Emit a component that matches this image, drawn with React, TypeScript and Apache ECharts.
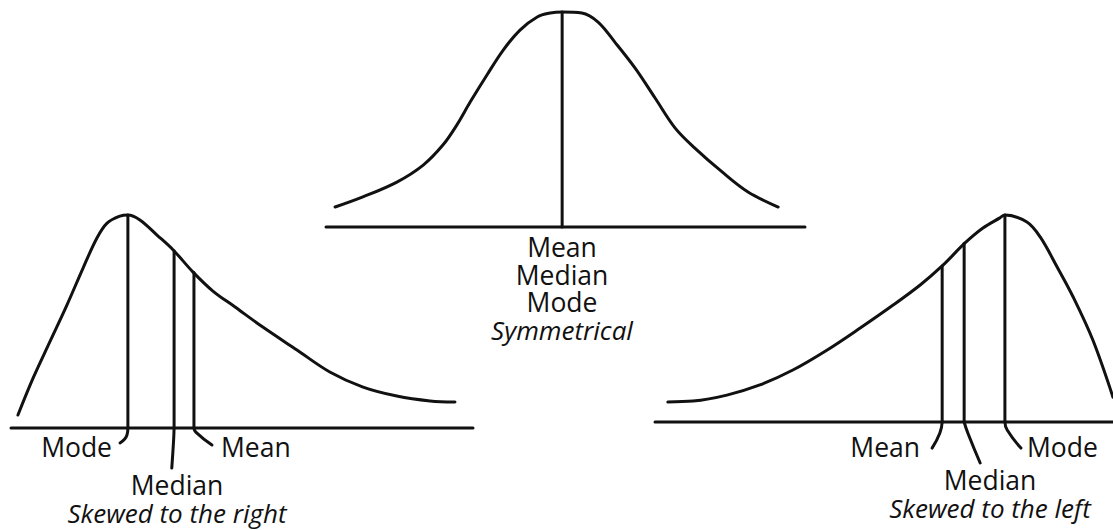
import React, { useEffect, useRef } from "react";
import * as echarts from "echarts";

// ---------- data (curve heights in % of the peak, x in % of each axis) ----------
const rightSkewCurve: [number, number][] = [
  [1.5, 6.1], [4.8, 23.5], [8.4, 40.4], [12.1, 57.7], [15.6, 75.1], [18.6, 89.2],
  [20.8, 96.2], [23.6, 99.5], [25.3, 100], [27.9, 97.7], [31.6, 90.6], [35.1, 83.6],
  [39.4, 73.2], [43.7, 64.3], [48.5, 56.8], [54.5, 47.4], [61.9, 36.6], [69.0, 26.3],
  [76.2, 19.2], [83.5, 15.0], [90.7, 12.7], [96.1, 12.2],
];
const rightSkewNames = ["Mode", "Median", "Mean"];
const rightSkewX = [25.3, 35.3, 39.6];
const rightSkewTop = [100, 83.2, 73.0];
const rightSkewTicks: [number, number][][] = [
  [[25.3, 0], [25.1, -3.3], [23.6, -7.0]],
  [[35.3, 0], [35.2, -5.6], [34.8, -18.8]],
  [[39.6, 0], [40.0, -1.9], [43.5, -8.0]],
];

const symmetricCurve: [number, number][] = [
  [1.9, 9.3], [7.7, 14.0], [14.8, 20.9], [20.3, 28.8], [24.4, 38.1], [27.3, 47.4],
  [30.1, 58.1], [33.6, 70.7], [37.0, 82.3], [40.5, 91.6], [44.1, 97.7], [46.8, 99.5],
  [49.3, 100], [53.4, 99.5], [56.8, 95.3], [60.3, 86.0], [64.5, 74.0], [68.7, 60.0],
  [72.9, 46.0], [77.0, 36.7], [82.7, 25.6], [88.1, 16.3], [94.4, 9.3],
];
const symmetricX = 49.3;
const symmetricTop = 100;
const symmetricNames = ["Mean", "Median", "Mode"];

const leftSkewCurve: [number, number][] = [
  [2.8, 9.7], [8.3, 10.1], [15.7, 13.0], [22.9, 17.9], [30.1, 25.1], [37.6, 34.8],
  [44.8, 45.4], [52.0, 56.5], [57.9, 66.2], [62.7, 75.4], [67.7, 86.5], [71.6, 93.7],
  [75.3, 98.6], [76.4, 100], [81.2, 96.6], [84.1, 89.4], [87.8, 74.9], [91.3, 60.4],
  [95.6, 39.6], [100, 12.0],
];
const leftSkewNames = ["Mean", "Median", "Mode"];
const leftSkewX = [62.7, 67.5, 76.4];
const leftSkewTop = [75.4, 86.3, 100];
const leftSkewTicks: [number, number][][] = [
  [[62.7, 0], [62.2, -5.3], [60.5, -12.6]],
  [[67.5, 0], [68.3, -5.3], [71.0, -19.8]],
  [[76.4, 0], [76.9, -3.9], [79.9, -12.6]],
];

const titles = ["Skewed to the right", "Symmetrical", "Skewed to the left"];

// ---------- styling ----------
const INK = "#111111";
const FAMILY = '"Open Sans", "Noto Sans", sans-serif';
const FS = 26.5;
const FS_I = 26;

function line(idx: number, data: [number, number][], smooth: number | boolean = false) {
  return {
    type: "line",
    xAxisIndex: idx,
    yAxisIndex: idx,
    data,
    symbol: "none",
    showSymbol: false,
    smooth,
    clip: false,
    silent: true,
    lineStyle: { color: INK, width: 3, cap: "round" },
  };
}

function txt(text: string, x: number, y: number, align: string) {
  return {
    type: "text",
    x,
    y,
    silent: true,
    style: {
      text,
      fill: INK,
      font: `${FS}px ${FAMILY}`,
      align,
      textAlign: align,
      verticalAlign: "middle",
      textVerticalAlign: "middle",
    },
  };
}

// one text block of stacked lines: normal lines then one italic line
function stack(lines: string[], italicLine: string, x: number, y: number, lh: number) {
  const body = lines.map((l) => `{n|${l}}`).concat([`{i|${italicLine}}`]).join("\n");
  return {
    type: "text",
    x,
    y,
    silent: true,
    style: {
      text: body,
      fill: INK,
      align: "center",
      textAlign: "center",
      verticalAlign: "middle",
      textVerticalAlign: "middle",
      rich: {
        n: { fill: INK, color: INK, fontSize: FS, fontFamily: FAMILY, lineHeight: lh, align: "center" },
        i: { fill: INK, color: INK, fontSize: FS_I, fontFamily: FAMILY, fontStyle: "italic", lineHeight: lh, align: "center" },
      },
    },
  };
}

export default function App() {
  const ref = useRef<HTMLDivElement>(null);
  useEffect(() => {
    document.body.style.margin = "0";
    if (!ref.current) return;
    const chart = echarts.init(ref.current, undefined, { renderer: "svg" });
    const series: any[] = [];
    // left chart (index 0)
    series.push(line(0, [[0, 0], [100, 0]]));
    series.push(line(0, rightSkewCurve, 0.35));
    rightSkewX.forEach((x, i) => series.push(line(0, [[x, 0], [x, rightSkewTop[i]]])));
    rightSkewTicks.forEach((t) => series.push(line(0, t, 0.5)));
    // middle chart (index 1)
    series.push(line(1, [[0, 0], [100, 0]]));
    series.push(line(1, symmetricCurve, 0.35));
    series.push(line(1, [[symmetricX, 0], [symmetricX, symmetricTop]]));
    // right chart (index 2)
    series.push(line(2, [[0, 0], [100, 0]]));
    series.push(line(2, leftSkewCurve, 0.35));
    leftSkewX.forEach((x, i) => series.push(line(2, [[x, 0], [x, leftSkewTop[i]]])));
    leftSkewTicks.forEach((t) => series.push(line(2, t, 0.5)));

    const axisX = (i: number) => ({ type: "value", gridIndex: i, min: 0, max: 100, show: false });
    const axisY = (i: number, min: number) => ({ type: "value", gridIndex: i, min, max: 100, show: false });

    chart.setOption({
      animation: false,
      backgroundColor: "#ffffff",
      grid: [
        { left: 11, top: 215, width: 462, height: 266.25 },
        { left: 326, top: 12, width: 479, height: 215 },
        { left: 655, top: 215, width: 458, height: 258.75 },
      ],
      xAxis: [axisX(0), axisX(1), axisX(2)],
      yAxis: [axisY(0, -25), axisY(1, 0), axisY(2, -25)],
      series,
      graphic: [
        txt(rightSkewNames[0], 112, 447, "right"),
        txt(rightSkewNames[2], 221, 447, "left"),
        stack([rightSkewNames[1]], titles[0], 177, 499, 28),
        stack(symmetricNames, titles[1], 562, 288.5, 27.7),
        txt(leftSkewNames[0], 920, 447, "right"),
        txt(leftSkewNames[2], 1027, 447, "left"),
        stack([leftSkewNames[1]], titles[2], 990, 494, 28),
      ],
    });
    return () => chart.dispose();
  }, []);
  return <div ref={ref} style={{ width: 1113, height: 530 }} />;
}
